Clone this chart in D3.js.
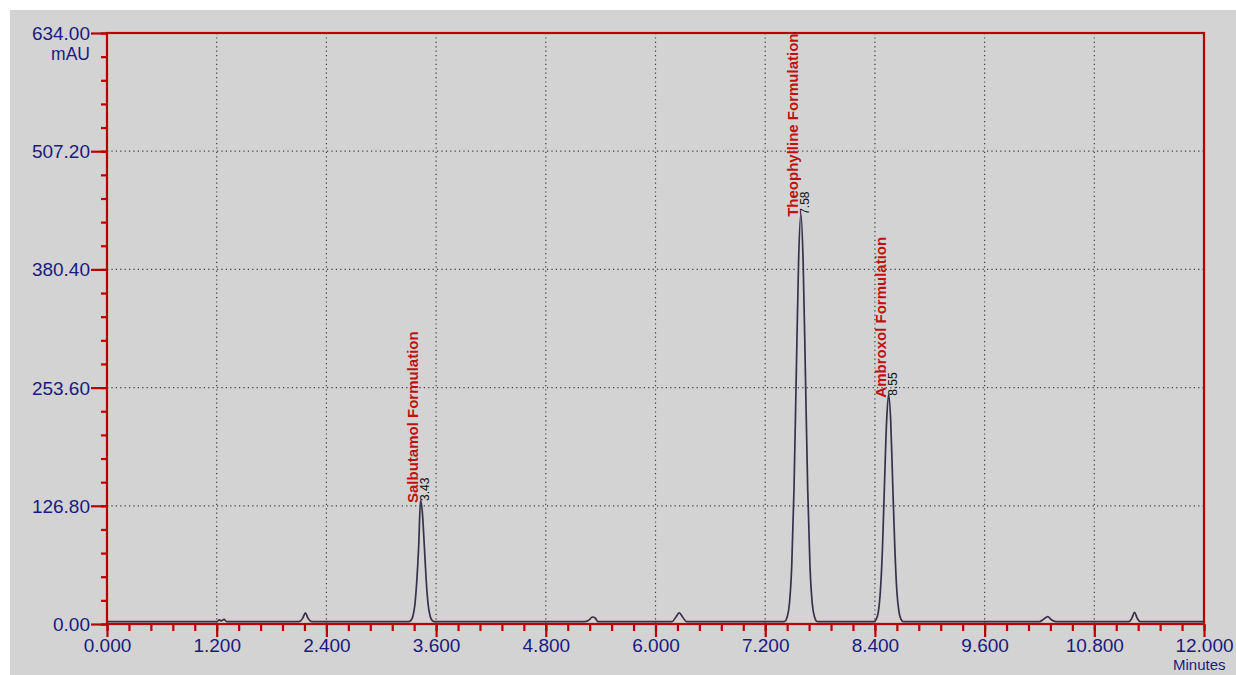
<!DOCTYPE html>
<html>
<head>
<meta charset="utf-8">
<script src="https://cdn.jsdelivr.net/npm/d3@7"></script>
<style>
	body{margin:0;background:#fff;}
	svg{display:block;}
	text{font-family:"Liberation Sans", Arial, sans-serif;}
</style>
</head>
<body>
<svg width="1236" height="675"></svg>
<script>
(()=>{
	//data
	let xTicks = [0, 1.2, 2.4, 3.6, 4.8, 6.0, 7.2, 8.4, 9.6, 10.8, 12.0];
	let yTicks = [0, 126.8, 253.6, 380.4, 507.2, 634.0];
	let peakNames = ["Salbutamol Formulation", "Theophylline Formulation", "Ambroxol Formulation"];
	let peakTimes = [3.43, 7.58, 8.55];
	let peakSpots = [3.43, 7.59, 8.55]; //where the apex sits on the trace
	//trace points [minutes, mAU]
	let trace = [
		[0, 2.5], [1.20, 2.5], [1.23, 4.5], [1.25, 3.2], [1.28, 5], [1.31, 2.5],
		[2.10, 2.5], [2.14, 6], [2.17, 12], [2.20, 6], [2.24, 2.5],
		[3.30, 2.5], [3.325, 3.9], [3.346, 8.3], [3.367, 20], [3.388, 45], [3.409, 82], [3.43, 133],
		[3.451, 118], [3.472, 82], [3.493, 45], [3.514, 20], [3.535, 8.3], [3.556, 3.9], [3.58, 2.5],
		[5.22, 2.5], [5.27, 4], [5.31, 7.5], [5.34, 6.5], [5.37, 2.5],
		[6.18, 2.5], [6.22, 7], [6.26, 12], [6.30, 7], [6.34, 2.5],
		[7.41, 2.5], [7.44, 7.4], [7.465, 21.7], [7.49, 61.7], [7.515, 144.6], [7.54, 267.9], [7.565, 388.6], [7.59, 440],
		[7.615, 388.6], [7.64, 267.9], [7.665, 144.6], [7.69, 61.7], [7.715, 21.7], [7.74, 7.4], [7.77, 2.5],
		[8.39, 2.5], [8.415, 5.2], [8.438, 13.2], [8.46, 35.4], [8.483, 81.6], [8.505, 150.2], [8.528, 217.4], [8.55, 246],
		[8.573, 217.4], [8.595, 150.2], [8.618, 81.6], [8.64, 35.4], [8.663, 13.2], [8.685, 5.2], [8.71, 2.5],
		[10.20, 2.5], [10.25, 5.5], [10.29, 8], [10.33, 4.5], [10.38, 2.5],
		[11.18, 2.5], [11.21, 6], [11.24, 12.5], [11.27, 6], [11.30, 2.5],
		[12.0, 2.5]
	];

	let svg = d3.select("svg"),
		red = "#b80000",
		blue = "#1a1a80";

	svg.append("rect")
		.attr("x", 10).attr("y", 10)
		.attr("width", 1226).attr("height", 665)
		.style("fill", "#d3d3d3");

	let x = d3.scaleLinear().domain([0, 12]).range([107, 1204]);
	let y = d3.scaleLinear().domain([0, 634]).range([624, 33]);

	svg.append("clipPath").attr("id", "plotclip")
		.append("rect")
		.attr("x", x(0)).attr("y", y(634))
		.attr("width", x(12) - x(0)).attr("height", y(0) - y(634));

	//grid
	let grid = svg.append("g")
		.style("stroke", "#3a3a3a")
		.style("stroke-width", 1.2)
		.style("stroke-dasharray", "1.2,3.2");
	grid.selectAll(".vgrid").data(xTicks.slice(1, -1)).enter()
		.append("line")
		.attr("class", "vgrid")
		.attr("x1", d => x(d)).attr("x2", d => x(d))
		.attr("y1", y(634)).attr("y2", y(0));
	grid.selectAll(".hgrid").data(yTicks.slice(1, -1)).enter()
		.append("line")
		.attr("class", "hgrid")
		.attr("x1", x(0)).attr("x2", x(12))
		.attr("y1", d => y(d)).attr("y2", d => y(d));

	//trace
	let line = d3.line()
		.x(d => x(d[0]))
		.y(d => y(d[1]))
		.curve(d3.curveMonotoneX);
	svg.append("path")
		.datum(trace)
		.attr("d", line)
		.style("fill", "none")
		.style("stroke", "#34324a")
		.style("stroke-width", 1.7);

	//axes: minor ticks then major ticks with labels
	function styleAxis(g){
		g.select(".domain").remove();
		g.selectAll("line").style("stroke", red).style("stroke-width", 2.2);
		g.selectAll("text")
			.style("fill", blue)
			.style("font-size", "19px");
	}
	svg.append("g")
		.attr("transform", "translate(0," + y(0) + ")")
		.call(d3.axisBottom(x).tickValues(d3.range(0, 51).map(i => i * 0.24)).tickSize(7).tickFormat(""))
		.call(styleAxis);
	svg.append("g")
		.attr("transform", "translate(0," + y(0) + ")")
		.call(d3.axisBottom(x).tickValues(xTicks).tickSize(13).tickPadding(2).tickFormat(d3.format(".3f")))
		.call(styleAxis);
	svg.append("g")
		.attr("transform", "translate(" + x(0) + ",0)")
		.call(d3.axisLeft(y).tickValues(d3.range(0, 26).map(i => i * 25.36)).tickSize(6).tickFormat(""))
		.call(styleAxis);
	let yAxis = svg.append("g")
		.attr("transform", "translate(" + x(0) + ",0)")
		.call(d3.axisLeft(y).tickValues(yTicks).tickSize(16).tickPadding(1).tickFormat(d3.format(".2f")))
		.call(styleAxis);
	yAxis.selectAll("text").attr("dy", "0.34em");

	//unit labels
	svg.append("text")
		.attr("x", 90).attr("y", 60)
		.attr("text-anchor", "end")
		.style("fill", blue).style("font-size", "17.5px")
		.text("mAU");
	svg.append("text")
		.attr("x", 1173).attr("y", 670)
		.style("fill", blue).style("font-size", "15px")
		.text("Minutes");

	//frame
	svg.append("rect")
		.attr("x", x(0)).attr("y", y(634))
		.attr("width", x(12) - x(0)).attr("height", y(0) - y(634))
		.style("fill", "none")
		.style("stroke", red)
		.style("stroke-width", 2.2);

	//peak annotations
	let apex = peakSpots.map(t => trace.find(p => p[0] === t));
	let labels = svg.append("g").attr("clip-path", "url(#plotclip)");
	labels.selectAll(".pname").data(peakNames).enter()
		.append("text")
		.attr("class", "pname")
		.attr("transform", (d, i) => "translate(" + (x(apex[i][0]) - 3) + "," + (y(apex[i][1]) + 3) + ") rotate(-90)")
		.style("fill", "#c01010")
		.style("font-size", "15px")
		.style("font-weight", "bold")
		.text(d => d);
	labels.selectAll(".ptime").data(peakTimes).enter()
		.append("text")
		.attr("class", "ptime")
		.attr("transform", (d, i) => "translate(" + (x(apex[i][0]) + 8) + "," + (y(apex[i][1]) + 1) + ") rotate(-90)")
		.style("fill", "#111")
		.style("font-size", "12px")
		.text(d => d3.format(".2f")(d));
})();
</script>
</body>
</html>
